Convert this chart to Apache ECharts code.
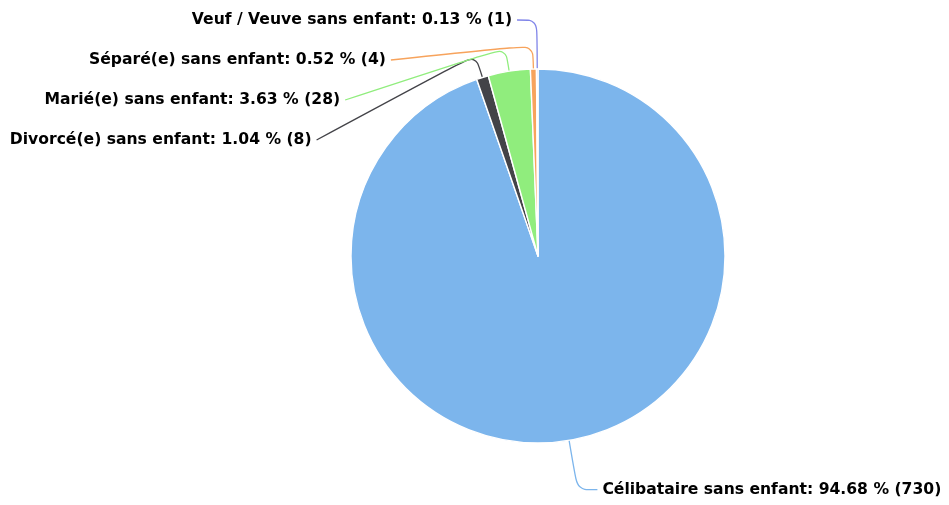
<!DOCTYPE html>
<html>
<head>
<meta charset="utf-8">
<script src="https://cdn.jsdelivr.net/npm/echarts@6/dist/echarts.min.js"></script>
<style>
  html, body { margin: 0; padding: 0; background: #fff; }
  #chart { width: 949px; height: 505px; }
</style>
</head>
<body>
<div id="chart"></div>
<script>
  // situation familiale (sans enfant)
  const categories = [
    'Célibataire sans enfant',
    'Divorcé(e) sans enfant',
    'Marié(e) sans enfant',
    'Séparé(e) sans enfant',
    'Veuf / Veuve sans enfant'
  ];
  const counts = [730, 8, 28, 4, 1];
  const colors = ['#7cb5ec', '#434348', '#90ed7d', '#f7a35c', '#8085e9'];

  const cx = 538, cy = 256;

  const chart = echarts.init(document.getElementById('chart'));
  const pieData = categories.map((name, i) => ({
    name: name,
    value: counts[i],
    itemStyle: { color: colors[i] },
    labelLine: { lineStyle: { color: colors[i] } }
  }));

  chart.setOption({
    animation: false,
    series: [{
      type: 'pie',
      center: [cx, cy],
      radius: 187,
      startAngle: 90,
      clockwise: true,
      avoidLabelOverlap: true,
      itemStyle: { borderColor: '#fff', borderWidth: 1.4 },
      label: {
        formatter: '{b}: {d} % ({c})',
        fontFamily: 'DejaVu Sans',
        fontWeight: 'bold',
        fontSize: 15.6,
        lineHeight: 38,
        overflow: 'none',
        edgeDistance: 0,
        color: '#000',
        textBorderColor: '#fff',
        textBorderWidth: 2
      },
      labelLine: {
        length: 50,
        length2: 20,
        smooth: 0.3,
        lineStyle: { width: 1.3 }
      },
      // connecteurs facon highcharts : sortie radiale courte puis vers le label
      labelLayout: function (params) {
        const pts = params.labelLinePoints;
        if (!pts || pts.length < 2) return {};
        const p0 = pts[0];
        const p2 = pts[pts.length - 1];
        const dx = p0[0] - cx, dy = p0[1] - cy;
        const len = Math.sqrt(dx * dx + dy * dy);
        const p1 = [p0[0] + dx / len * 24, p0[1] + dy / len * 24];
        if (p2[1] < p1[1] - 2 || dy > 0) return {};
        return { labelLinePoints: [p0, p1, p2] };
      },
      data: pieData
    }]
  });
</script>
</body>
</html>
